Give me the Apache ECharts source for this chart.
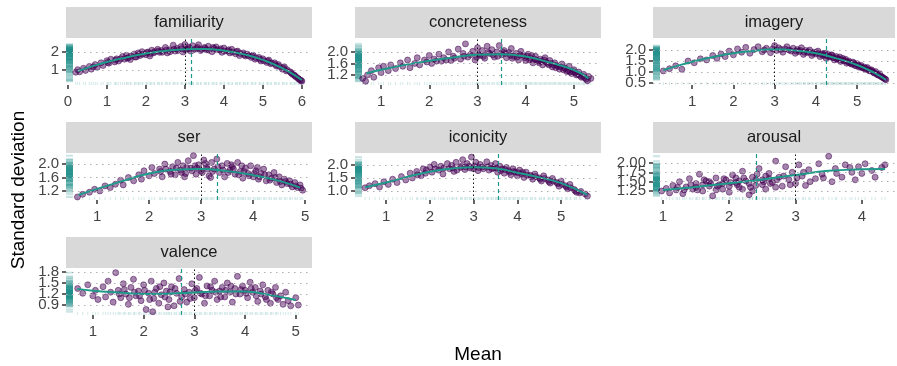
<!DOCTYPE html>
<html>
<head>
<meta charset="utf-8">
<script src="https://cdn.jsdelivr.net/npm/echarts@6/dist/echarts.min.js"></script>
<style>
  html, body { margin: 0; padding: 0; background: #fff; }
  #chart { width: 897px; height: 366px; }
</style>
</head>
<body>
<div id="chart"></div>
<script>
// facets, in reading order
const facetNames = ['familiarity', 'concreteness', 'imagery', 'ser', 'iconicity', 'arousal', 'valence'];

// [mean, sd] per word (a sample of the cloud)
const familiarityPts = [[0.2,0.88],[0.25,1.02],[0.3,0.9],[0.4,1.1],[0.45,0.98],[0.55,1.2],[0.6,1.05],[0.7,1.3],[0.75,1.15],[0.85,1.4],[0.9,1.25],[1.0,1.52],[1.05,1.38],[1.1,1.6],[1.2,1.45],[1.25,1.62],[1.3,1.5],[1.4,1.75],[1.45,1.6],[1.5,1.82],[1.55,1.68],[1.6,1.58],[1.7,1.88],[1.75,1.72],[1.8,1.95],[1.85,1.8],[1.9,2.02],[2.0,1.85],[2.05,2.0],[2.1,1.78],[2.15,2.1],[2.2,1.95],[2.3,2.15],[2.35,1.98],[2.4,2.08],[2.5,2.25],[2.55,1.95],[2.6,2.12],[2.7,2.38],[2.75,2.05],[2.8,2.2],[2.9,2.3],[2.95,2.0],[3.0,2.42],[3.05,2.15],[3.1,2.28],[3.15,2.05],[3.2,2.35],[3.3,2.18],[3.35,2.4],[3.4,2.08],[3.5,2.25],[3.55,2.12],[3.6,2.32],[3.7,2.02],[3.75,2.2],[3.8,2.28],[3.9,2.1],[3.95,1.98],[4.0,2.22],[4.1,2.05],[4.15,1.95],[4.2,2.15],[4.3,1.9],[4.35,2.05],[4.4,1.8],[4.5,1.95],[4.55,1.78],[4.6,1.88],[4.7,1.7],[4.75,1.82],[4.8,1.6],[4.9,1.7],[4.95,1.5],[5.0,1.62],[5.1,1.42],[5.15,1.55],[5.2,1.35],[5.3,1.4],[5.35,1.22],[5.4,1.3],[5.5,1.05],[5.55,1.18],[5.6,0.95],[5.7,0.9],[5.75,0.78],[5.8,0.72],[5.85,0.62],[5.9,0.55],[5.95,0.45],[6.0,0.38],
  [1.52,1.66],[1.62,1.78],[1.72,1.72],[1.82,1.86],[1.92,1.88],[2.02,1.96],[2.12,1.92],[2.22,2.02],[2.32,2.05],[2.42,1.98],[2.52,2.1],[2.62,2.02],[2.72,2.15],[2.82,2.08],[2.92,2.18],[3.02,2.1],[3.12,2.2],[3.22,2.12],[3.32,2.25],[3.42,2.15],[3.52,2.2],[3.62,2.1],[3.72,2.25],[3.82,2.12],[3.92,2.18],[4.02,2.05],[4.12,2.12],[4.22,2.0],[4.32,2.02],[4.42,1.92],[4.52,1.85],[4.62,1.8],[4.72,1.78],[4.82,1.68],[4.92,1.6],[5.02,1.52],[5.12,1.5],[5.22,1.4],[5.32,1.3],[5.42,1.2],[5.52,1.12],[5.62,1.02],[5.72,0.85],[5.82,0.68],[5.92,0.5],[5.98,0.42],[1.02,1.42],[1.22,1.55],[1.35,1.62],[0.65,1.18]];
const concretenessPts = [[0.62,1.08],[0.68,0.98],[0.72,1.2],[0.8,1.35],[0.85,1.12],[0.95,1.45],[1.0,1.28],[1.05,1.5],[1.15,1.35],[1.2,1.55],[1.3,1.42],[1.4,1.62],[1.45,1.5],[1.55,1.72],[1.6,1.45],[1.7,1.6],[1.75,1.8],[1.8,1.55],[1.9,1.72],[2.0,1.88],[2.05,1.6],[2.1,1.75],[2.2,1.92],[2.25,1.68],[2.3,1.8],[2.4,2.0],[2.45,1.7],[2.5,1.85],[2.6,2.1],[2.65,1.75],[2.7,1.95],[2.75,2.28],[2.8,1.82],[2.9,2.02],[2.95,1.72],[3.0,2.15],[3.05,1.88],[3.1,2.05],[3.15,1.78],[3.2,2.2],[3.25,1.95],[3.3,2.08],[3.35,1.82],[3.4,2.0],[3.45,2.22],[3.5,1.9],[3.55,2.05],[3.6,1.8],[3.65,1.98],[3.7,2.12],[3.75,1.85],[3.8,1.95],[3.85,1.72],[3.9,2.02],[3.95,1.88],[4.0,1.7],[4.05,1.92],[4.1,1.78],[4.15,1.62],[4.2,1.85],[4.25,1.68],[4.3,1.75],[4.35,1.55],[4.4,1.8],[4.45,1.6],[4.5,1.7],[4.55,1.48],[4.6,1.62],[4.65,1.52],[4.7,1.4],[4.75,1.58],[4.8,1.45],[4.85,1.32],[4.9,1.5],[4.95,1.25],[5.0,1.38],[5.05,1.2],[5.1,1.3],[5.15,1.12],[5.2,1.22],[5.25,1.05],[5.3,1.15],[5.35,1.08],
  [3.02,1.92],[3.12,1.85],[3.22,1.98],[3.32,1.9],[3.42,1.85],[3.52,2.0],[3.58,1.95],[3.68,1.88],[3.72,1.78],[3.82,1.82],[3.88,1.9],[3.98,1.8],[4.02,1.85],[4.08,1.72],[4.12,1.88],[4.18,1.75],[4.22,1.7],[4.28,1.62],[4.32,1.68],[4.38,1.72],[4.42,1.65],[4.48,1.55],[4.52,1.6],[4.58,1.55],[4.62,1.45],[4.68,1.5],[4.72,1.48],[4.78,1.38],[4.82,1.42],[4.88,1.35],[4.92,1.3],[4.98,1.32],[5.02,1.28],[5.08,1.22],[5.12,1.18],[5.18,1.15],[5.22,1.1],[5.28,1.0],[2.52,1.78],[2.72,1.85],[2.85,1.9],[2.98,1.82],[2.35,1.72],[2.15,1.68],[1.95,1.65]];
const imageryPts = [[0.3,1.05],[0.45,1.15],[0.6,1.28],[0.75,1.12],[0.9,1.5],[1.05,1.42],[1.2,1.6],[1.35,1.55],[1.5,1.75],[1.6,1.62],[1.7,1.82],[1.8,1.7],[1.9,1.95],[2.0,1.78],[2.1,2.05],[2.2,1.9],[2.3,2.12],[2.4,1.85],[2.5,2.02],[2.6,2.15],[2.7,1.92],[2.8,2.08],[2.9,1.88],[3.0,2.2],[3.05,1.98],[3.1,2.1],[3.2,1.9],[3.25,2.05],[3.3,2.15],[3.4,1.95],[3.45,2.08],[3.5,1.85],[3.55,2.02],[3.6,1.92],[3.65,2.1],[3.7,1.8],[3.75,1.98],[3.8,1.88],[3.85,2.0],[3.9,1.75],[3.95,1.9],[4.0,1.82],[4.05,1.95],[4.1,1.7],[4.15,1.85],[4.2,1.78],[4.25,1.62],[4.3,1.8],[4.35,1.68],[4.4,1.75],[4.45,1.55],[4.5,1.7],[4.55,1.6],[4.6,1.48],[4.65,1.62],[4.7,1.52],[4.75,1.4],[4.8,1.5],[4.85,1.38],[4.9,1.45],[4.95,1.3],[5.0,1.38],[5.05,1.22],[5.1,1.3],[5.15,1.18],[5.2,1.12],[5.25,1.2],[5.3,1.05],[5.35,1.1],[5.4,0.98],[5.45,1.02],[5.5,0.88],[5.55,0.92],[5.6,0.78],[5.65,0.72],[5.7,0.65],
  [3.52,1.95],[3.62,1.98],[3.72,1.9],[3.82,1.92],[3.92,1.85],[4.02,1.88],[4.12,1.8],[4.18,1.75],[4.22,1.85],[4.28,1.72],[4.32,1.7],[4.38,1.78],[4.42,1.65],[4.48,1.62],[4.52,1.58],[4.58,1.68],[4.62,1.55],[4.68,1.5],[4.72,1.58],[4.78,1.45],[4.82,1.42],[4.88,1.35],[4.92,1.4],[4.98,1.28],[5.02,1.32],[5.08,1.25],[5.12,1.2],[5.18,1.22],[5.22,1.15],[5.28,1.1],[5.32,1.08],[5.38,1.02],[5.42,0.95],[5.48,0.9],[5.52,0.85],[5.58,0.8],[5.62,0.75],[5.68,0.68],[3.15,2.02],[3.35,2.0],[2.95,2.05],[2.75,2.0]];
const serPts = [[0.62,1.02],[0.72,1.1],[0.85,1.16],[0.95,1.25],[1.05,1.2],[1.15,1.35],[1.25,1.3],[1.35,1.4],[1.45,1.52],[1.5,1.38],[1.6,1.6],[1.7,1.5],[1.8,1.68],[1.85,1.55],[1.9,1.8],[2.0,1.65],[2.05,1.9],[2.1,1.72],[2.2,1.85],[2.25,1.62],[2.3,2.0],[2.4,1.78],[2.45,1.92],[2.5,1.68],[2.55,2.05],[2.6,1.82],[2.65,1.95],[2.7,1.72],[2.75,2.1],[2.8,1.88],[2.85,2.25],[2.9,1.7],[2.95,1.98],[3.0,1.8],[3.05,2.12],[3.1,1.92],[3.15,1.65],[3.2,2.05],[3.25,1.85],[3.3,2.15],[3.35,1.75],[3.4,1.95],[3.45,1.62],[3.5,2.02],[3.55,1.82],[3.6,1.92],[3.65,1.7],[3.7,2.05],[3.75,1.78],[3.8,1.58],[3.85,1.88],[3.9,1.72],[3.95,1.95],[4.0,1.62],[4.05,1.8],[4.1,1.55],[4.15,1.72],[4.2,1.85],[4.25,1.5],[4.3,1.68],[4.35,1.58],[4.4,1.75],[4.45,1.45],[4.5,1.62],[4.55,1.38],[4.6,1.55],[4.65,1.42],[4.7,1.5],[4.75,1.32],[4.8,1.45],[4.85,1.3],[4.9,1.38],[4.95,1.22],
  [2.22,1.78],[2.32,1.85],[2.42,1.7],[2.52,1.88],[2.62,1.75],[2.72,1.9],[2.82,1.8],[2.92,1.88],[3.02,1.75],[3.12,1.85],[3.22,1.78],[3.32,1.92],[3.42,1.82],[3.52,1.75],[3.62,1.85],[3.72,1.68],[3.82,1.78],[3.92,1.65],[4.02,1.72],[4.12,1.62],[4.22,1.68],[4.32,1.52],[4.42,1.6],[4.52,1.48],[4.62,1.48],[4.72,1.4],[4.82,1.35],[4.92,1.28],[3.08,2.02],[3.58,1.98],[2.88,1.95],[3.78,1.95],[4.08,1.9],[2.68,1.62],[3.18,1.6]];
const iconicityPts = [[0.52,1.12],[0.62,1.2],[0.75,1.28],[0.85,1.15],[0.95,1.35],[1.05,1.25],[1.15,1.45],[1.25,1.32],[1.35,1.55],[1.45,1.42],[1.55,1.68],[1.6,1.5],[1.7,1.75],[1.8,1.58],[1.85,1.85],[1.9,1.68],[2.0,1.92],[2.05,1.72],[2.1,2.02],[2.2,1.8],[2.25,1.95],[2.3,1.65],[2.4,2.05],[2.45,1.85],[2.5,1.98],[2.55,1.75],[2.6,2.1],[2.7,1.9],[2.75,2.2],[2.8,1.82],[2.85,2.05],[2.9,1.95],[2.95,2.3],[3.0,1.85],[3.05,2.1],[3.1,1.78],[3.15,2.02],[3.2,1.92],[3.3,2.12],[3.35,1.8],[3.4,1.98],[3.45,1.88],[3.5,2.05],[3.55,1.72],[3.6,1.95],[3.65,1.85],[3.7,1.68],[3.75,1.9],[3.8,1.78],[3.85,1.62],[3.9,1.85],[3.95,1.72],[4.0,1.58],[4.05,1.8],[4.1,1.65],[4.15,1.52],[4.2,1.72],[4.3,1.6],[4.35,1.45],[4.4,1.65],[4.5,1.5],[4.55,1.38],[4.6,1.58],[4.7,1.42],[4.75,1.3],[4.8,1.48],[4.9,1.32],[4.95,1.18],[5.0,1.38],[5.1,1.2],[5.15,1.08],[5.2,1.25],[5.3,1.05],[5.35,0.95],[5.45,0.98],[5.55,0.88],[5.6,0.8],
  [2.12,1.85],[2.32,1.88],[2.52,1.88],[2.62,1.8],[2.72,1.95],[2.82,1.92],[2.92,1.88],[3.02,1.95],[3.12,1.9],[3.22,1.85],[3.32,1.92],[3.42,1.85],[3.52,1.88],[3.62,1.78],[3.72,1.82],[3.82,1.72],[3.92,1.75],[4.02,1.7],[4.12,1.72],[4.22,1.6],[4.32,1.55],[4.42,1.55],[4.52,1.45],[4.62,1.48],[4.72,1.35],[4.82,1.38],[4.92,1.28],[5.02,1.25],[5.12,1.15],[5.22,1.12],[5.32,1.0],[5.42,0.92],[1.92,1.8],[1.72,1.62]];
const arousalPts = [[0.98,1.25],[1.05,1.32],[1.1,1.2],[1.15,1.4],[1.2,1.28],[1.25,1.5],[1.3,1.18],[1.35,1.36],[1.4,1.58],[1.45,1.3],[1.5,1.45],[1.5,1.35],[1.55,1.7],[1.6,1.25],[1.6,1.42],[1.65,1.52],[1.7,1.38],[1.7,1.5],[1.75,1.12],[1.8,1.6],[1.8,1.28],[1.85,1.42],[1.9,1.3],[1.9,1.45],[1.95,1.55],[2.0,1.22],[2.0,1.38],[2.05,1.68],[2.1,1.48],[2.1,1.6],[2.15,1.35],[2.15,1.52],[2.2,1.78],[2.2,1.3],[2.25,1.52],[2.3,1.15],[2.3,1.45],[2.35,1.62],[2.35,1.25],[2.4,1.4],[2.4,1.55],[2.45,1.85],[2.5,1.55],[2.5,1.42],[2.55,1.3],[2.55,1.65],[2.6,1.72],[2.6,1.58],[2.65,1.48],[2.7,2.05],[2.7,1.35],[2.75,1.62],[2.8,1.38],[2.85,1.9],[2.9,1.55],[2.95,1.75],[3.0,1.45],[3.05,1.95],[3.1,1.65],[3.15,1.4],[3.2,1.82],[3.3,1.58],[3.35,1.98],[3.4,1.7],[3.5,2.18],[3.55,1.5],[3.6,1.85],[3.7,1.62],[3.75,1.95],[3.85,1.75],[3.9,1.55],[3.95,1.9],[4.0,1.72],[4.05,1.98],[4.15,1.8],[4.2,1.62],[4.3,1.88],[4.35,1.95],
  [1.52,1.28],[1.62,1.55],[1.72,1.45],[1.82,1.38],[1.92,1.58],[2.02,1.48],[2.12,1.42],[2.22,1.6],[2.32,1.35],[2.42,1.7],[2.52,1.5],[2.62,1.45],[2.72,1.55],[2.82,1.65],[2.92,1.42],[3.02,1.6],[3.12,1.75],[3.22,1.5],[3.42,1.6],[3.62,1.72],[3.82,1.88],[1.42,1.42],[1.32,1.28],[1.22,1.35]];
const valencePts = [[0.7,1.35],[0.8,1.22],[0.9,1.45],[1.0,1.15],[1.05,1.3],[1.1,1.05],[1.2,1.4],[1.25,1.12],[1.3,1.55],[1.35,1.25],[1.4,0.98],[1.45,1.78],[1.5,1.3],[1.55,1.1],[1.6,1.48],[1.65,1.2],[1.7,0.92],[1.75,1.38],[1.8,1.6],[1.85,1.15],[1.9,1.28],[1.95,1.02],[2.0,1.45],[2.05,0.78],[2.1,1.22],[2.15,1.55],[2.2,1.08],[2.25,1.35],[2.3,0.95],[2.35,1.18],[2.4,1.5],[2.45,1.28],[2.5,1.05],[2.55,1.4],[2.6,0.88],[2.65,1.22],[2.7,1.62],[2.75,1.12],[2.8,1.32],[2.85,0.98],[2.9,1.25],[2.95,1.48],[3.0,1.1],[3.05,1.35],[3.1,1.65],[3.15,1.2],[3.2,0.95],[3.25,1.42],[3.3,1.15],[3.35,1.3],[3.4,1.55],[3.45,1.05],[3.5,1.28],[3.55,1.38],[3.6,1.12],[3.65,1.5],[3.7,1.25],[3.75,0.98],[3.8,1.35],[3.85,1.68],[3.9,1.2],[3.95,1.42],[4.0,1.3],[4.05,1.1],[4.1,1.52],[4.15,1.25],[4.2,1.38],[4.25,1.0],[4.3,1.28],[4.35,1.45],[4.4,1.12],[4.45,1.3],[4.5,0.95],[4.55,1.2],[4.6,1.38],[4.65,1.05],[4.7,1.15],[4.75,0.92],[4.8,1.25],[4.85,1.02],[4.9,0.88],[5.0,1.1],[5.05,0.9],
  [1.52,1.2],[1.62,1.32],[1.72,1.1],[1.82,1.25],[1.92,1.15],[2.02,1.3],[2.12,1.05],[2.22,1.25],[2.32,1.4],[2.42,1.12],[2.52,1.25],[2.62,1.35],[2.72,1.0],[2.82,1.2],[2.92,1.08],[3.02,1.3],[3.12,1.22],[3.22,1.15],[3.32,1.4],[3.42,1.25],[3.52,1.12],[3.62,1.3],[3.72,1.42],[3.82,1.2],[3.92,1.32],[4.02,1.22],[4.12,1.35],[4.22,1.15],[4.32,1.2],[4.42,1.05],[4.52,1.25],[4.62,1.1],[2.18,0.72],[2.48,0.85]];

// smoothed fit per facet
const familiarityFit = [[0.25,0.95],[0.5,1.12],[1,1.45],[1.5,1.7],[2,1.92],[2.5,2.06],[3,2.15],[3.5,2.17],[4,2.08],[4.5,1.88],[5,1.56],[5.5,1.1],[6,0.45]];
const concretenessFit = [[0.7,1.26],[1,1.38],[1.5,1.55],[2,1.69],[2.5,1.81],[3,1.9],[3.5,1.92],[4,1.84],[4.5,1.63],[5,1.37],[5.3,1.08]];
const imageryFit = [[0.3,1.09],[0.5,1.2],[1,1.47],[1.5,1.68],[2,1.85],[2.5,1.96],[3,2.03],[3.5,1.98],[4,1.85],[4.5,1.62],[5,1.32],[5.4,0.98],[5.7,0.64]];
const serFit = [[0.64,1.08],[1,1.26],[1.5,1.5],[2,1.72],[2.5,1.83],[3,1.85],[3.5,1.79],[4,1.67],[4.5,1.5],[4.9,1.3]];
const iconicityFit = [[0.52,1.14],[1,1.32],[1.5,1.55],[2,1.74],[2.5,1.86],[3,1.91],[3.5,1.87],[4,1.7],[4.5,1.52],[5,1.3],[5.6,0.85]];
const arousalFit = [[1,1.28],[1.5,1.36],[2,1.46],[2.5,1.56],[3,1.68],[3.5,1.79],[4,1.83],[4.35,1.84]];
const valenceFit = [[0.69,1.34],[1,1.29],[1.5,1.24],[2,1.2],[2.5,1.21],[3,1.24],[3.5,1.27],[4,1.27],[4.5,1.17],[5,1.04]];

const scaleMidpoint = 3;
const meanOfMeans = [3.15, 3.5, 4.25, 3.3, 3.56, 2.4, 2.75];

// tick labels
const xTicks = [[0,1,2,3,4,5,6],[1,2,3,4,5],[1,2,3,4,5],[1,2,3,4,5],[1,2,3,4,5],[1,2,3,4],[1,2,3,4,5]];
const yTicks = [[1,2],[1.2,1.6,2.0],[0.5,1.0,1.5,2.0],[1.2,1.6,2.0],[1.0,1.5,2.0],[1.25,1.5,1.75,2.0],[0.9,1.2,1.5,1.8]];
const yDecimals = [0, 1, 1, 1, 1, 2, 1];

const allPts = [familiarityPts, concretenessPts, imageryPts, serPts, iconicityPts, arousalPts, valencePts];
const allFits = [familiarityFit, concretenessFit, imageryFit, serFit, iconicityFit, arousalFit, valenceFit];

// layout
const colLeft = [66, 355, 653], colWidth = [246, 246, 242];
const rowTop = [39, 154, 269], panelH = 46, stripH = 31;
const xRange = [[-0.05,6.26],[0.46,5.56],[0.05,5.92],[0.40,5.13],[0.29,5.91],[0.85,4.50],[0.47,5.32]];
const yRange = [[0.17,2.72],[0.85,2.45],[0.41,2.5],[0.93,2.30],[0.65,2.42],[1.01,2.24],[0.63,1.88]];

const FONT = '"Liberation Sans", Arial, sans-serif';
const teal = '#1F998A';
const tickStyle = { color: '#333', width: 1.5 };

const grids = [], xAxes = [], yAxes = [], labelAxes = [], series = [], graphics = [];

facetNames.forEach((name, i) => {
  const r = Math.floor(i / 3), c = i % 3;
  const left = colLeft[c], top = rowTop[r], w = colWidth[c];
  grids.push({ left: left, top: top, width: w, height: panelH });

  xAxes.push({
    type: 'value', gridIndex: i, min: xRange[i][0], max: xRange[i][1],
    axisLine: { show: false },
    splitLine: { show: false },
    axisTick: { show: true, customValues: xTicks[i], length: 4, lineStyle: tickStyle },
    axisLabel: { customValues: xTicks[i], margin: 9, fontSize: 15, color: '#444', fontFamily: FONT, hideOverlap: false }
  });
  // data axis (no labels); labels come from one axis per tick so that
  // overlapping labels are all kept, as in the original
  yAxes.push({
    type: 'value', gridIndex: i, position: 'left', min: yRange[i][0], max: yRange[i][1],
    axisLine: { show: false }, splitLine: { show: false },
    axisTick: { show: false }, axisLabel: { show: false }
  });
  yTicks[i].forEach(v => {
    labelAxes.push({
      type: 'value', gridIndex: i, position: 'left', offset: 0,
      min: yRange[i][0], max: yRange[i][1],
      axisLine: { show: false }, splitLine: { show: false },
      axisTick: { show: true, customValues: [v], length: 4, lineStyle: tickStyle },
      axisLabel: {
        customValues: [v], margin: 7, fontSize: 15, color: '#444', fontFamily: FONT,
        formatter: () => v.toFixed(yDecimals[i])
      }
    });
  });

  const pts = allPts[i];

  // x rug + grid and reference lines (drawn under points)
  series.push({
    type: 'scatter', xAxisIndex: i, yAxisIndex: i, silent: true, clip: false, z: 1,
    symbol: 'rect', symbolSize: [1, 3], symbolOffset: [0, -1.5],
    itemStyle: { color: 'rgba(33,144,140,0.25)' },
    data: pts.map(p => [p[0], yRange[i][0]]),
    markLine: {
      silent: true, symbol: 'none', label: { show: false }, animation: false,
      data: yTicks[i].map(v => ({ yAxis: v, lineStyle: { color: '#b0b0b0', type: [1.5, 4.5], width: 1.2 } }))
        .concat([
          { xAxis: scaleMidpoint, lineStyle: { color: '#111', type: [1.5, 2.5], width: 1 } },
          { xAxis: meanOfMeans[i], lineStyle: { color: teal, type: [4, 3], width: 1.2 } }
        ])
    }
  });
  // y rug
  series.push({
    type: 'scatter', xAxisIndex: i, yAxisIndex: i, silent: true, clip: false, z: 1,
    symbol: 'rect', symbolSize: [7, 2], symbolOffset: [3.5, 0],
    itemStyle: { color: 'rgba(33,144,140,0.3)' },
    data: pts.map(p => [xRange[i][0], p[1]])
  });
  // points
  series.push({
    type: 'scatter', xAxisIndex: i, yAxisIndex: i, z: 2,
    symbolSize: 6,
    itemStyle: { color: 'rgba(68,1,84,0.6)', borderColor: 'rgba(68,1,84,0.8)', borderWidth: 0.8 },
    data: pts
  });
  // fit
  series.push({
    type: 'line', xAxisIndex: i, yAxisIndex: i, z: 3, smooth: true, showSymbol: false,
    lineStyle: { color: teal, width: 2 },
    data: allFits[i]
  });

  // strip
  graphics.push({
    type: 'rect', left: left, top: top - stripH - 1, silent: true,
    shape: { width: w, height: stripH }, style: { fill: '#d9d9d9' }
  });
  graphics.push({
    type: 'text', x: left + w / 2, y: top - stripH / 2 - 1, silent: true,
    style: { text: name, fill: '#1a1a1a', font: '16.5px ' + FONT, textAlign: 'center', textVerticalAlign: 'middle' }
  });
});

graphics.push({
  type: 'text', x: 478, y: 355, silent: true,
  style: { text: 'Mean', fill: '#000', font: '19px ' + FONT, textAlign: 'center', textVerticalAlign: 'middle' }
});
graphics.push({
  type: 'text', x: 19, y: 190, rotation: Math.PI / 2, silent: true,
  style: { text: 'Standard deviation', fill: '#000', font: '19px ' + FONT, textAlign: 'center', textVerticalAlign: 'middle' }
});

const chart = echarts.init(document.getElementById('chart'));
chart.setOption({
  animation: false,
  backgroundColor: '#fff',
  grid: grids,
  xAxis: xAxes,
  yAxis: yAxes.concat(labelAxes),
  series: series,
  graphic: graphics
});
</script>
</body>
</html>
